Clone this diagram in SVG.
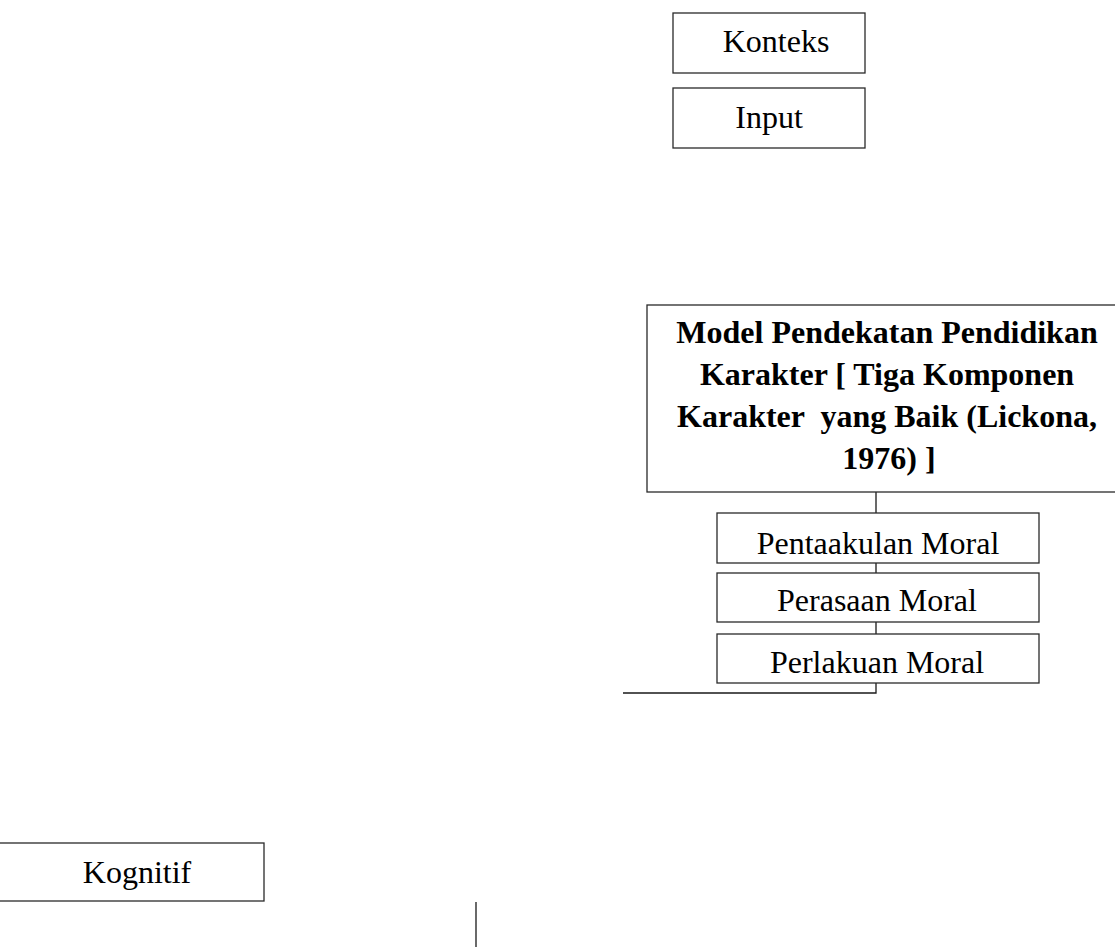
<svg xmlns="http://www.w3.org/2000/svg" width="1115" height="947" viewBox="0 0 1115 947">
<style>
.box{fill:#fff;stroke:#2a2a2a;stroke-width:1.3}
.ln{fill:none;stroke:#1a1a1a;stroke-width:1.3}
.t{font-family:"Liberation Serif","Times New Roman",serif;font-size:32px;fill:#000;text-anchor:middle}
.b{font-weight:bold}
</style>
<rect width="1115" height="947" fill="#fff"/>
<g id="connectors">
<path class="ln" d="M876 492V693H623"/>
<path class="ln" d="M476 902V947"/>
</g>
<g id="konteks"><rect class="box" x="673" y="13" width="192" height="60"/><text class="t" x="776" y="52">Konteks</text></g>
<g id="input"><rect class="box" x="673" y="88" width="192" height="60"/><text class="t" x="769" y="128">Input</text></g>
<g id="model"><rect class="box" x="647" y="305" width="472" height="187"/>
<text class="t b" x="887" y="343">Model Pendekatan Pendidikan</text>
<text class="t b" x="887" y="385">Karakter [ Tiga Komponen</text>
<text class="t b" x="887" y="427" xml:space="preserve">Karakter  yang Baik (Lickona,</text>
<text class="t b" x="889" y="469">1976) ]</text></g>
<g id="pentaakulan"><rect class="box" x="717" y="513" width="322" height="50"/><text class="t" x="878" y="554">Pentaakulan Moral</text></g>
<g id="perasaan"><rect class="box" x="717" y="573" width="322" height="49"/><text class="t" x="877" y="611">Perasaan Moral</text></g>
<g id="perlakuan"><rect class="box" x="717" y="634" width="322" height="49"/><text class="t" x="877" y="673">Perlakuan Moral</text></g>
<g id="kognitif"><rect class="box" x="-2" y="843" width="266" height="58"/><text class="t" x="137" y="883">Kognitif</text></g>
</svg>
